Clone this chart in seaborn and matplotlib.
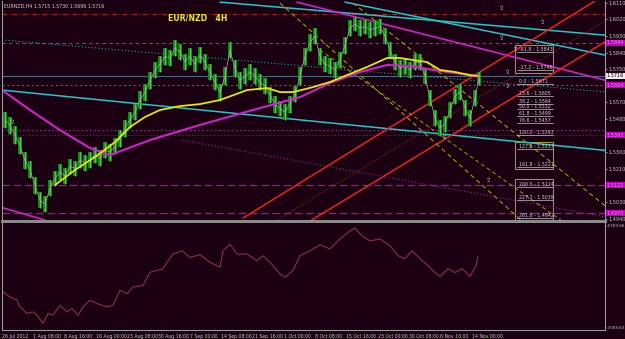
import numpy as np
import pandas as pd
import matplotlib
matplotlib.use("Agg")
import matplotlib.pyplot as plt
import seaborn as sns

# ---------------- data ----------------
bar_x = list(range(3, 474, 5)) + [477]
highs = [1.5520,1.5490,1.5440,1.5385,1.5300,1.5250,1.5165,1.5085,1.5060,1.5150,1.5200,1.5235,1.5215,1.5265,1.5255,1.5300,
         1.5285,1.5300,1.5330,1.5310,1.5355,1.5345,1.5375,1.5420,1.5475,1.5520,1.5560,1.5630,1.5670,1.5735,1.5790,1.5820,
         1.5865,1.5855,1.5910,1.5885,1.5835,1.5865,1.5820,1.5870,1.5830,1.5780,1.5725,1.5670,1.5760,1.5895,1.5800,1.5735,
         1.5755,1.5780,1.5755,1.5725,1.5700,1.5655,1.5605,1.5580,1.5560,1.5605,1.5660,1.5760,1.5865,1.5940,1.5975,1.5865,
         1.5820,1.5810,1.5790,1.5845,1.5925,1.6015,1.6035,1.6015,1.6025,1.6005,1.6015,1.6025,1.5975,1.5895,1.5830,1.5800,
         1.5810,1.5790,1.5830,1.5830,1.5755,1.5640,1.5530,1.5475,1.5495,1.5570,1.5645,1.5670,1.5585,1.5530,1.5640,1.5735]
lows = [1.5430,1.5400,1.5345,1.5290,1.5210,1.5160,1.5075,1.4995,1.4975,1.5060,1.5115,1.5150,1.5125,1.5180,1.5170,1.5215,
        1.5200,1.5215,1.5240,1.5225,1.5270,1.5255,1.5290,1.5330,1.5385,1.5430,1.5475,1.5535,1.5580,1.5645,1.5700,1.5735,
        1.5775,1.5765,1.5820,1.5800,1.5745,1.5775,1.5735,1.5785,1.5745,1.5690,1.5635,1.5580,1.5665,1.5810,1.5710,1.5645,
        1.5670,1.5690,1.5670,1.5635,1.5615,1.5565,1.5515,1.5495,1.5475,1.5515,1.5570,1.5665,1.5775,1.5850,1.5885,1.5775,
        1.5735,1.5725,1.5700,1.5755,1.5835,1.5930,1.5955,1.5930,1.5940,1.5920,1.5930,1.5940,1.5885,1.5810,1.5745,1.5710,
        1.5725,1.5700,1.5745,1.5745,1.5670,1.5550,1.5440,1.5390,1.5410,1.5485,1.5560,1.5585,1.5495,1.5440,1.5550,1.5665]

ma_slow_x = [53,73,93,113,128,143,158,178,198,218,245,265,278,291,311,328,345,365,385,398,411,425,438,453,468,476]
ma_slow = [1.5122,1.5204,1.5274,1.5355,1.5437,1.5491,1.5529,1.5550,1.5561,1.5583,1.5637,1.5648,1.5626,1.5626,1.5653,
           1.5681,1.5718,1.5762,1.5811,1.5811,1.5800,1.5789,1.5746,1.5735,1.5718,1.5713]
ma_long_x = [0,28,58,88,108,148,198,251,298,328,358,385,411,431,453,476]
ma_long = [1.5637,1.5529,1.5420,1.5323,1.5285,1.5366,1.5448,1.5529,1.5599,1.5675,1.5735,1.5773,1.5767,1.5746,1.5729,1.5713]

ind_x = [0,8,15,18,25,31,35,41,46,51,58,65,70,76,81,88,95,105,111,118,125,131,141,148,161,165,171,180,188,198,208,218,
         221,228,235,245,255,261,268,278,283,291,298,308,318,328,338,348,353,360,368,378,388,396,403,410,418,426,433,438,
         446,453,460,468,474,476]
ind = [-6962.9,-6980.5,-6990.2,-7010.0,-7029.4,-7024.6,-7034.4,-7058.8,-7029.4,-7034.4,-7004.9,-7024.6,-7014.6,-7034.4,
       -7010.0,-6990.2,-6999.9,-7010.0,-7004.9,-6960.8,-6970.5,-6951.1,-6946.1,-6907.0,-6897.0,-6877.6,-6852.9,-6843.2,
       -6862.9,-6855.0,-6877.6,-6892.3,-6843.2,-6823.5,-6852.9,-6852.9,-6872.6,-6857.9,-6877.6,-6911.7,-6921.7,-6902.0,
       -6857.9,-6843.2,-6825.5,-6837.3,-6807.9,-6784.4,-6775.5,-6799.1,-6813.8,-6807.9,-6828.5,-6857.9,-6866.7,-6843.2,
       -6866.7,-6887.3,-6907.9,-6919.6,-6896.1,-6907.9,-6896.1,-6919.6,-6887.3,-6860.8]

tick_labels = ["26 Jul 2012","1 Aug 08:00","8 Aug 16:00","16 Aug 00:00","23 Aug 08:00","30 Aug 16:00","7 Sep 00:00",
               "14 Sep 08:00","21 Sep 16:00","1 Oct 00:00","8 Oct 08:00","15 Oct 16:00","23 Oct 00:00","30 Oct 08:00",
               "6 Nov 16:00","14 Nov 00:00"]
price_ticks = [1.6110,1.6020,1.5930,1.5840,1.5750,1.5660,1.5570,1.5480,1.5390,1.5300,1.5210,1.5120,1.5030,1.4940]

fib_names = ["-61.8","-27.2","0.0","23.6","38.2","50.0","61.8","76.6","100.0","127.2","161.8","200.0","227.2","261.8"]
fib_prices = [1.5843,1.5746,1.5671,1.5605,1.5564,1.5532,1.5499,1.5457,1.5393,1.5317,1.5221,1.5114,1.5039,1.4942]

level_tags = [1.5894,1.5664,1.5393,1.5122,1.4970]
current_price = 1.5716
header = "EURNZD,H4 1.5715 1.5730 1.5696 1.5716"
title = "EUR/NZD   4H"

assert len(highs) == len(lows) == len(bar_x)
assert len(ind) == len(ind_x)

# ---------------- style ----------------
BG = "#1a0010"
sns.set_theme(style="dark")
plt.rcParams["font.family"] = ["DejaVu Sans"]

fig = plt.figure(figsize=(6.25, 3.39), dpi=100, facecolor=BG)
ax = fig.add_axes([2/625, 1-221/339, 603/625, 220/339])
axi = fig.add_axes([2/625, 1-330/339, 603/625, 107/339])
for a in (ax, axi):
    a.set_facecolor(BG)
    a.set_xlim(0, 603)
    a.grid(False)
    for s in a.spines.values():
        s.set_color("#9a9a9a")
        s.set_linewidth(0.8)
ax.set_ylim(1.4927, 1.6120)
axi.set_ylim(-7078.5, -6760.8)
ax.spines["bottom"].set_linewidth(2.2)
ax.spines["bottom"].set_color("#8a8a8a")
axi.spines["top"].set_visible(False)
ax.spines["top"].set_visible(False)

# horizontal levels
ax.axhline(1.6049, color="#b02020", lw=0.8, ls=(0, (4, 2, 1, 2)))
ax.axhline(1.5894, color="#b020b0", lw=0.8, ls=(0, (3, 3)))
ax.axhline(1.5664, color="#c030c0", lw=0.7, ls=(0, (2, 3)))
ax.axhline(1.5420, color="#a030a0", lw=0.6, ls=(0, (2, 3)))
ax.axhline(1.5393, color="#7a3a20", lw=0.7, ls=(0, (1, 2)))
ax.axhline(1.5122, color="#c000c0", lw=0.9, ls=(0, (6, 3)))
ax.axhline(1.4970, color="#c000c0", lw=0.9, ls=(0, (6, 3)))
ax.axhline(current_price, color="#4a6a80", lw=0.8)

def seg(x0, y0, x1, y1, **kw):
    sns.lineplot(x=[x0, x1], y=[y0, y1], ax=ax, legend=False, **kw)

seg(0, 1.5637, 603, 1.5310, color="#20c8c8", lw=1.1)                 # long cyan
seg(0, 1.5909, 603, 1.5627, color="#20a0a0", lw=0.8, ls=(0, (1, 2)))  # teal dotted
seg(218, 1.6114, 603, 1.5935, color="#20c8c8", lw=1.1)               # upper cyan 1
seg(343, 1.6114, 603, 1.5827, color="#20c8c8", lw=1.1)               # upper cyan 2
seg(295, 1.6114, 603, 1.5691, color="#d020d0", lw=1.2)               # magenta trend
seg(0, 1.5000, 43, 1.4932, color="#d020d0", lw=1.2)                  # magenta bottom-left
seg(241, 1.4943, 593, 1.6120, color="#ff2020", lw=1.0)               # red channel upper
seg(308, 1.4927, 603, 1.5898, color="#ff2020", lw=1.0)               # red channel lower
seg(275, 1.4932, 603, 1.6012, color="#a03020", lw=0.7, ls=(0, (1, 2)))
seg(278, 1.6109, 520, 1.4927, color="#a0a000", lw=0.8, ls=(0, (4, 3)))
seg(351, 1.6109, 603, 1.5010, color="#a0a000", lw=0.8, ls=(0, (4, 3)))
seg(318, 1.5854, 560, 1.4927, color="#a0a000", lw=0.7, ls=(0, (4, 3)))
seg(180, 1.5366, 603, 1.4950, color="#a020a0", lw=0.8, ls=(0, (1, 2)))

# price bars
ax.vlines(bar_x, lows, highs, color="#178a17", lw=2.8)
ax.vlines(bar_x, lows, highs, color="#4ccc4c", lw=0.8)
mid = [(h + l) / 2 for h, l in zip(highs, lows)]
sns.lineplot(x=bar_x, y=mid, ax=ax, color="#a8a8a8", lw=0.5, legend=False)

# moving averages
sns.lineplot(x=ma_long_x, y=ma_long, ax=ax, color="#d020d0", lw=1.5, legend=False)
sns.lineplot(x=ma_slow_x, y=ma_slow, ax=ax, color="#e6e600", lw=1.3, legend=False)

# fibonacci labels & boxes
for n, p in zip(fib_names, fib_prices):
    ax.text(517, p, f"{n} - {p:.4f}", fontsize=3.4, color="#d0d0d0", va="bottom", ha="left")
    ax.plot([515, 551], [p, p], color="#c8c8c8", lw=0.5)
for (y0, y1) in [(1.5729, 1.5881), (1.5209, 1.5355), (1.4933, 1.5155)]:
    ax.add_patch(plt.Rectangle((513, y0), 38, y1 - y0, fill=False, ec="#9a9a20", lw=0.8))

# fractal arrows
for (fx, fy) in [(500, 1.6080), (541, 1.6005), (500, 1.5915), (514, 1.5855), (506, 1.5730), (506, 1.5655),
                 (443, 1.5380), (487, 1.5145), (11, 1.5460)]:
    ax.text(fx, fy, "\u21e7", fontsize=4.5, color="#d8d8d8", ha="center", va="center")

# right axis
ax.yaxis.tick_right()
ax.set_yticks(price_ticks)
ax.set_yticklabels([f"{t:.4f}" for t in price_ticks])
ax.tick_params(axis="y", colors="#c8c8c8", labelsize=3.6, length=1.5, pad=0.8, width=0.5)
ax.set_xticks([])
for t in level_tags:
    ax.text(1.003, t, f"{t:.4f}", transform=ax.get_yaxis_transform(), fontsize=3.6, color="#e090e0",
            va="center", ha="left", bbox=dict(boxstyle="square,pad=0.1", fc="#c000c0", ec="none"))
ax.text(1.003, current_price, f"{current_price:.4f}", transform=ax.get_yaxis_transform(), fontsize=3.6,
        color="#000000", va="center", ha="left", bbox=dict(boxstyle="square,pad=0.1", fc="#f0f0f0", ec="none"))

# texts
ax.text(0.004, 0.988, header, transform=ax.transAxes, fontsize=3.4, color="#d0d0d0", va="top", ha="left")
ax.text(166, 1.6030, title, fontsize=5.6, color="#f0f000", fontweight="bold", va="center", ha="left")

# indicator
sns.lineplot(x=ind_x, y=ind, ax=axi, color="#8a3048", lw=0.8, legend=False)
axi.yaxis.tick_right()
axi.set_yticks([-6769.66, -7069.63])
axi.set_yticklabels(["-6769.66", "-7069.63"])
axi.tick_params(axis="y", colors="#c8c8c8", labelsize=3.0, length=1.0, pad=0.5, width=0.5)
tick_pos = [0, 31, 62, 94, 125, 156, 188, 219, 250, 282, 313, 344, 376, 407, 438, 470]
axi.set_xticks(tick_pos)
axi.set_xticklabels(tick_labels, ha="left")
axi.tick_params(axis="x", colors="#c8c8c8", labelsize=3.3, length=2.5, pad=0.5, width=0.5)
for lab in axi.get_xticklabels():
    lab.set_color("#c8c8c8")
ax.set_xlabel(""); ax.set_ylabel(""); axi.set_xlabel(""); axi.set_ylabel("")

fig.savefig("out.png", dpi=100, facecolor=BG)
